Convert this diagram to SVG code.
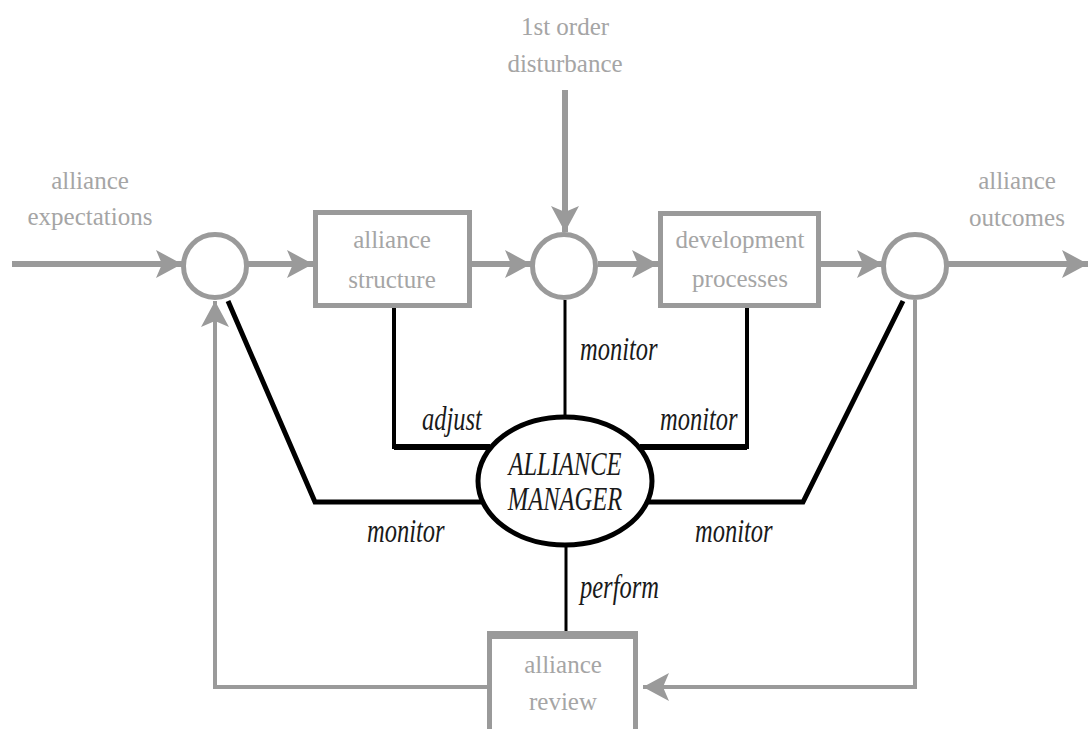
<svg xmlns="http://www.w3.org/2000/svg" width="1090" height="729" viewBox="0 0 1090 729">
<style>
.g{stroke:#9a9a9a;stroke-width:6;fill:none}
.box{stroke:#9a9a9a;stroke-width:5;fill:#fff}
.b{stroke:#000;fill:none;stroke-linejoin:miter}
.gt{font-size:25px;fill:#a5a5a5;text-anchor:middle}
.it{font-size:24.5px;font-style:italic;fill:#1a1a1a}
</style>
<defs>
<marker id="ah" markerUnits="userSpaceOnUse" markerWidth="26" markerHeight="28" viewBox="0 0 26 28" refX="26" refY="14" orient="auto">
<path d="M0,0 L26,14 L0,28 L6,14 Z" fill="#9a9a9a"/>
</marker>
</defs>
<rect width="1090" height="729" fill="#fff"/>
<g id="connectors">
<line class="g" x1="12" y1="264" x2="182" y2="264" marker-end="url(#ah)"/>
<line class="g" x1="248" y1="264" x2="313" y2="264" marker-end="url(#ah)"/>
<line class="g" x1="472" y1="264" x2="531" y2="264" marker-end="url(#ah)"/>
<line class="g" x1="598" y1="264" x2="658" y2="264" marker-end="url(#ah)"/>
<line class="g" x1="821" y1="264" x2="883" y2="264" marker-end="url(#ah)"/>
<line class="g" x1="948" y1="264" x2="1088" y2="264" marker-end="url(#ah)"/>
<line class="g" x1="565" y1="90" x2="565" y2="232" marker-end="url(#ah)"/>
<polyline class="g" style="stroke-width:4" points="488,687 215,687 215,301" marker-end="url(#ah)"/>
<polyline class="g" style="stroke-width:4" points="915,300 915,687 643,687" marker-end="url(#ah)"/>
<line class="b" x1="565" y1="300" x2="565" y2="416" stroke-width="3"/>
<polyline class="b" points="394,308 394,447 490,447" stroke-width="4"/>
<line class="b" x1="394" y1="447" x2="490" y2="447" stroke-width="6"/>
<polyline class="b" points="747,308 747,447 640,447" stroke-width="4"/>
<line class="b" x1="747" y1="447" x2="640" y2="447" stroke-width="6"/>
<polyline class="b" points="228,301 315,502 482,502" stroke-width="5"/>
<polyline class="b" points="903,301 803,502 648,502" stroke-width="5"/>
<line class="b" x1="566" y1="545" x2="566" y2="634" stroke-width="3"/>
</g>
<g id="labels" font-family="Liberation Serif, Times New Roman, serif">
<text class="gt" x="90" y="189">alliance</text>
<text class="gt" x="90" y="225">expectations</text>
<text class="gt" x="565" y="35">1st order</text>
<text class="gt" x="565" y="72">disturbance</text>
<text class="gt" x="1017" y="189">alliance</text>
<text class="gt" x="1017" y="226">outcomes</text>
<text class="it" transform="translate(580,360) scale(1,1.35)">monitor</text>
<text class="it" transform="translate(422,430) scale(1,1.35)">adjust</text>
<text class="it" transform="translate(660,430) scale(1,1.35)">monitor</text>
<text class="it" transform="translate(367,542) scale(1,1.35)">monitor</text>
<text class="it" transform="translate(695,542) scale(1,1.35)">monitor</text>
<text class="it" transform="translate(580,598) scale(1,1.35)">perform</text>
</g>
<g id="sum1"><circle class="g" cx="215" cy="266" r="31.5" style="stroke-width:5"/></g>
<g id="sum2"><circle class="g" cx="564" cy="266" r="31.5" style="stroke-width:5"/></g>
<g id="sum3"><circle class="g" cx="915" cy="266" r="31.5" style="stroke-width:5"/></g>
<g id="structure" font-family="Liberation Serif, Times New Roman, serif"><rect class="box" x="315.5" y="212.5" width="154" height="93"/>
<text class="gt" x="392" y="248">alliance</text><text class="gt" x="392" y="288">structure</text></g>
<g id="development" font-family="Liberation Serif, Times New Roman, serif"><rect class="box" x="660.5" y="213.5" width="158" height="92"/>
<text class="gt" x="740" y="248">development</text><text class="gt" x="740" y="287">processes</text></g>
<g id="manager" font-family="Liberation Serif, Times New Roman, serif"><ellipse cx="565" cy="481" rx="87" ry="64" fill="#fff" stroke="#000" stroke-width="5"/>
<text class="it" text-anchor="middle" transform="translate(565,475) scale(1,1.35)">ALLIANCE</text>
<text class="it" text-anchor="middle" transform="translate(565,510) scale(1,1.35)">MANAGER</text></g>
<g id="review" font-family="Liberation Serif, Times New Roman, serif"><rect class="box" x="489.5" y="635.5" width="146" height="120"/>
<line x1="487" y1="635" x2="638" y2="635" stroke="#9a9a9a" stroke-width="8"/>
<text class="gt" x="563" y="673">alliance</text><text class="gt" x="563" y="710">review</text></g>
</svg>
